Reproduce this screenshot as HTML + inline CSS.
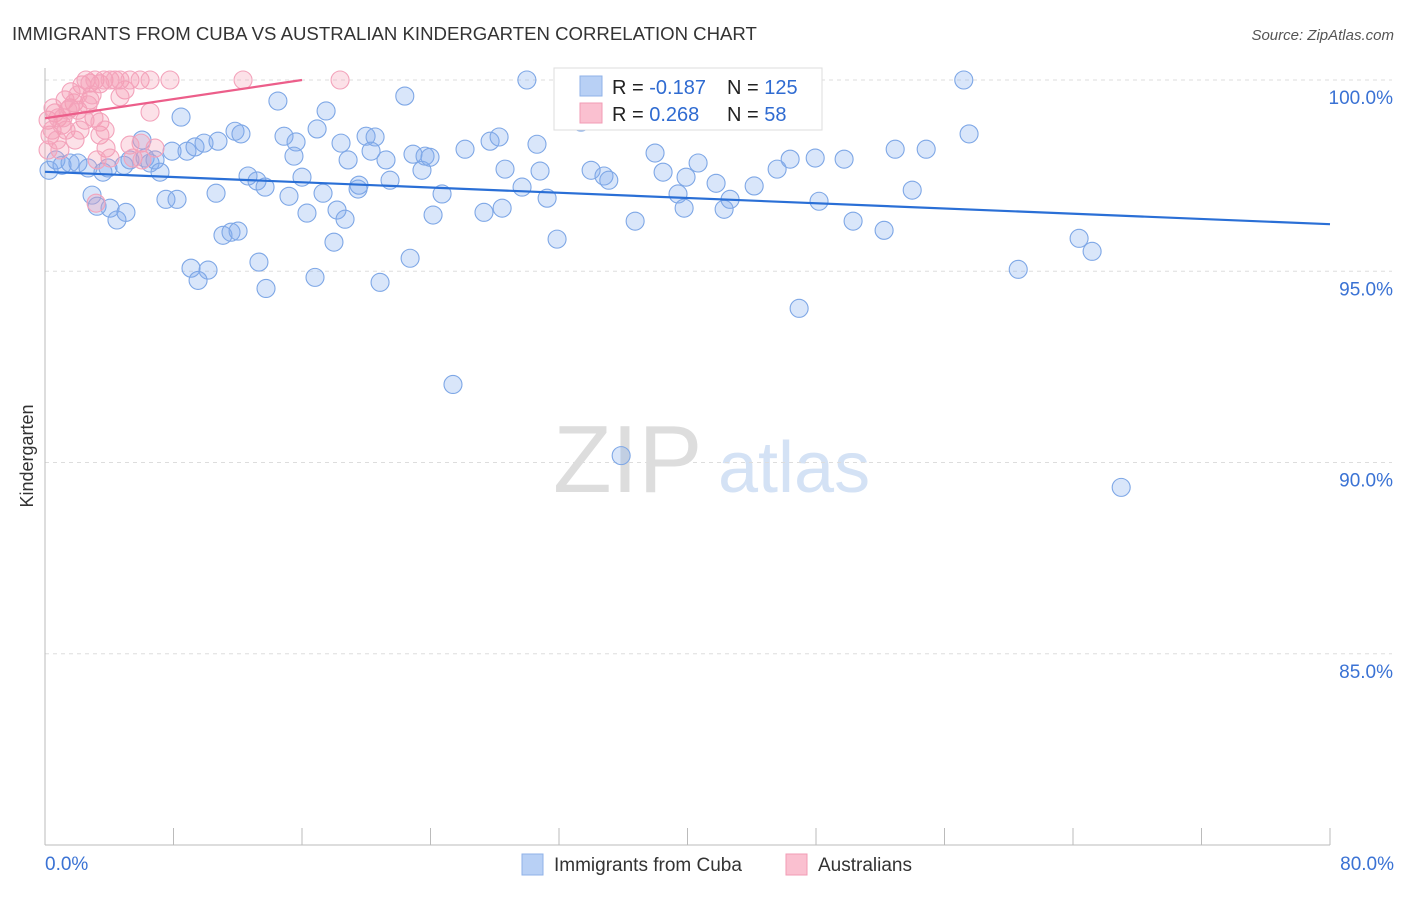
<!DOCTYPE html>
<html><head><meta charset="utf-8"><style>
body{margin:0;background:#fff;font-family:"Liberation Sans",sans-serif;}
svg text{font-family:"Liberation Sans",sans-serif;}
</style></head><body>
<svg id="chart" width="1406" height="892" xmlns="http://www.w3.org/2000/svg">
<text x="12" y="40" font-size="18.6" fill="#333">IMMIGRANTS FROM CUBA VS AUSTRALIAN KINDERGARTEN CORRELATION CHART</text>
<text x="1394" y="40" font-size="15" fill="#555" font-style="italic" text-anchor="end">Source: ZipAtlas.com</text>
<text x="33" y="456" font-size="18" fill="#333" text-anchor="middle" transform="rotate(-90 33 456)">Kindergarten</text>
<g>
<text x="553" y="492" font-size="96" fill="#ddd" font-family="Liberation Serif">ZIP</text>
<text x="718" y="492" font-size="72" fill="#d4e2f5">atlas</text>
</g>
<g id="grid"></g><g id="axes"></g><g id="pts"></g><g id="trends"></g>
<g>
<rect x="554" y="68" width="268" height="62" fill="#fff" stroke="#ddd"/>
<rect x="580" y="76" width="22" height="20" fill="#b8d0f5" stroke="#8fb2e8"/>
<rect x="580" y="103" width="22" height="20" fill="#fac0d0" stroke="#f29bb5"/>
<text x="612" y="94" font-size="20" fill="#222">R = <tspan fill="#2f6bd1">-0.187</tspan></text>
<text x="727" y="94" font-size="20" fill="#222">N = <tspan fill="#2f6bd1">125</tspan></text>
<text x="612" y="121" font-size="20" fill="#222">R = <tspan fill="#2f6bd1"> 0.268</tspan></text>
<text x="727" y="121" font-size="20" fill="#222">N = <tspan fill="#2f6bd1"> 58</tspan></text>
</g>
<g>
<rect x="522" y="854" width="21" height="21" fill="#b8d0f5" stroke="#8fb2e8"/>
<text x="554" y="871" font-size="19" fill="#333">Immigrants from Cuba</text>
<rect x="786" y="854" width="21" height="21" fill="#fac0d0" stroke="#f29bb5"/>
<text x="818" y="871" font-size="19" fill="#333">Australians</text>
</g>
</svg>
<script>
const yTicks=[100,95,90,85];
const xTickLabels=["0.0%","80.0%"];
const blueX=[30.0,36.3,57.2,14.5,22.4,8.47,17.5,0.25,0.68,1.06,1.56,2.05,2.68,3.61,3.92,4.92,5.29,6.23,6.54,6.85,7.16,6.04,7.91,8.84,9.34,9.9,10.77,11.83,12.2,14.88,15.63,15.5,16.94,18.43,18.87,19.99,20.55,20.3,21.23,22.91,23.47,23.66,23.97,26.15,27.71,28.27,30.63,28.64,30.82,33.37,34.0,34.8,35.1,37.98,38.48,39.91,40.66,39.41,39.79,41.78,42.28,42.65,44.15,45.58,46.39,47.95,49.75,52.93,54.86,57.53,53.99,48.19,50.31,52.24,64.38,65.19,60.59,46.95,25.4,35.87,67.0,2.93,3.24,4.05,4.48,5.04,7.53,8.22,10.65,11.08,11.58,12.02,12.64,13.2,13.7,15.19,16.0,16.31,17.31,18.18,18.68,17.99,19.49,19.55,21.48,24.16,24.72,27.33,28.46,29.7,31.26,31.88,36.74,13.32,9.09,10.15,9.53,13.76,16.81,20.86,22.73];
const blueY=[100,100,100,99.45,99.58,99.03,99.19,97.64,97.91,97.77,97.83,97.83,97.7,97.59,97.7,97.77,97.91,97.96,97.83,97.91,97.59,98.43,98.14,98.14,98.25,98.35,98.4,98.66,98.59,98.53,98.38,98.01,98.72,98.35,97.91,98.53,98.51,98.14,97.91,98.06,97.64,98.01,97.98,98.19,98.4,98.51,98.32,97.67,97.62,98.9,97.64,97.49,97.38,98.09,97.59,97.46,97.83,97.02,96.65,97.3,96.62,96.88,97.23,97.67,97.93,97.96,97.93,98.19,98.19,98.59,97.12,96.83,96.31,96.07,95.86,95.52,95.05,94.03,92.04,90.18,89.35,96.99,96.7,96.65,96.34,96.54,96.88,96.88,97.04,95.94,96.02,96.05,97.49,97.36,97.2,96.96,97.46,96.52,97.04,96.6,96.36,95.76,97.15,97.25,97.38,96.47,97.02,96.54,96.65,97.2,96.91,95.84,96.31,95.24,95.08,95.03,94.76,94.55,94.84,94.71,95.34];
const pinkX=[0.19,0.31,0.44,0.62,0.81,1.06,1.31,1.56,1.81,2.05,2.3,2.55,2.8,3.11,3.42,3.67,4.05,4.36,4.67,4.98,5.29,5.92,6.54,7.78,12.33,18.37,2.8,3.05,3.42,3.8,4.05,2.49,6.54,5.98,5.29,6.85,1.87,0.93,3.42,1.25,1.62,2.18,2.68,3.24,3.74,2.93,0.75,5.48,0.19,6.04,3.18,1.12,1.43,2.05,0.5,4.67];
const pinkY=[98.95,98.56,98.69,99.14,99.01,98.82,98.69,99.27,99.4,99.21,99.87,100,99.92,100,99.9,100,100,100,100,99.74,100,100,100,100,100,100,99.48,99.01,98.56,98.22,97.96,98.95,99.16,98.35,98.3,98.22,98.43,98.17,98.9,99.48,99.69,98.69,99.35,97.91,98.69,99.61,98.43,97.96,98.17,97.91,96.78,99.01,99.21,99.61,99.27,99.56];
const blueTrend=[0,97.6,80,96.23];
const pinkTrend=[0,99.0,16,100];
const NS="http://www.w3.org/2000/svg";
function xs(v){return 45+v*(1285/80);}
function ys(v){return 80+(100-v)*38.25;}
function mk(tag,attrs,parent){const e=document.createElementNS(NS,tag);for(const k in attrs)e.setAttribute(k,attrs[k]);document.getElementById(parent).appendChild(e);return e;}
yTicks.forEach(t=>{
 const l=mk('line',{x1:45,x2:1392,y1:ys(t),y2:ys(t),stroke:'#ddd','stroke-dasharray':'4,4'},'grid');
 
 
 const tx=mk('text',{x:1393,y:ys(t)+24,'font-size':19,fill:'#3a72d4','text-anchor':'end'},'grid');
 tx.textContent=t.toFixed(1)+'%';
 
 
});
const ax=mk('line',{x1:45,x2:1330,y1:845,y2:845,stroke:'#bbb'},'axes');


const ay=mk('line',{x1:45,x2:45,y1:68,y2:845,stroke:'#bbb'},'axes');


for(let i=0;i<=10;i++){
 const t=mk('line',{x1:xs(i*8),x2:xs(i*8),y1:828,y2:845,stroke:'#bbb'},'axes');
 
 
}
[[0,'start',45],[80,'end',1394]].forEach((d,i)=>{
 const t=mk('text',{x:d[2],y:870,'font-size':19,fill:'#3a72d4','text-anchor':d[1]},'axes');
 t.textContent=xTickLabels[i];
 
 
});
blueX.forEach((v,i)=>{
 const c=mk('circle',{cx:xs(v),cy:ys(blueY[i]),r:9,fill:'rgba(130,172,238,0.3)',stroke:'#7ea7e6','stroke-width':1.1},'pts');
 
 
});
pinkX.forEach((v,i)=>{
 const c=mk('circle',{cx:xs(v),cy:ys(pinkY[i]),r:9,fill:'rgba(245,155,180,0.3)',stroke:'#f3a3bb','stroke-width':1.1},'pts');
 
 
});
const bl=mk('line',{x1:xs(blueTrend[0]),y1:ys(blueTrend[1]),x2:xs(blueTrend[2]),y2:ys(blueTrend[3]),stroke:'#2a6fd6','stroke-width':2.2},'trends');


const pl=mk('line',{x1:xs(pinkTrend[0]),y1:ys(pinkTrend[1]),x2:xs(pinkTrend[2]),y2:ys(pinkTrend[3]),stroke:'#ec5e8a','stroke-width':2.2},'trends');


</script>
</body></html>
